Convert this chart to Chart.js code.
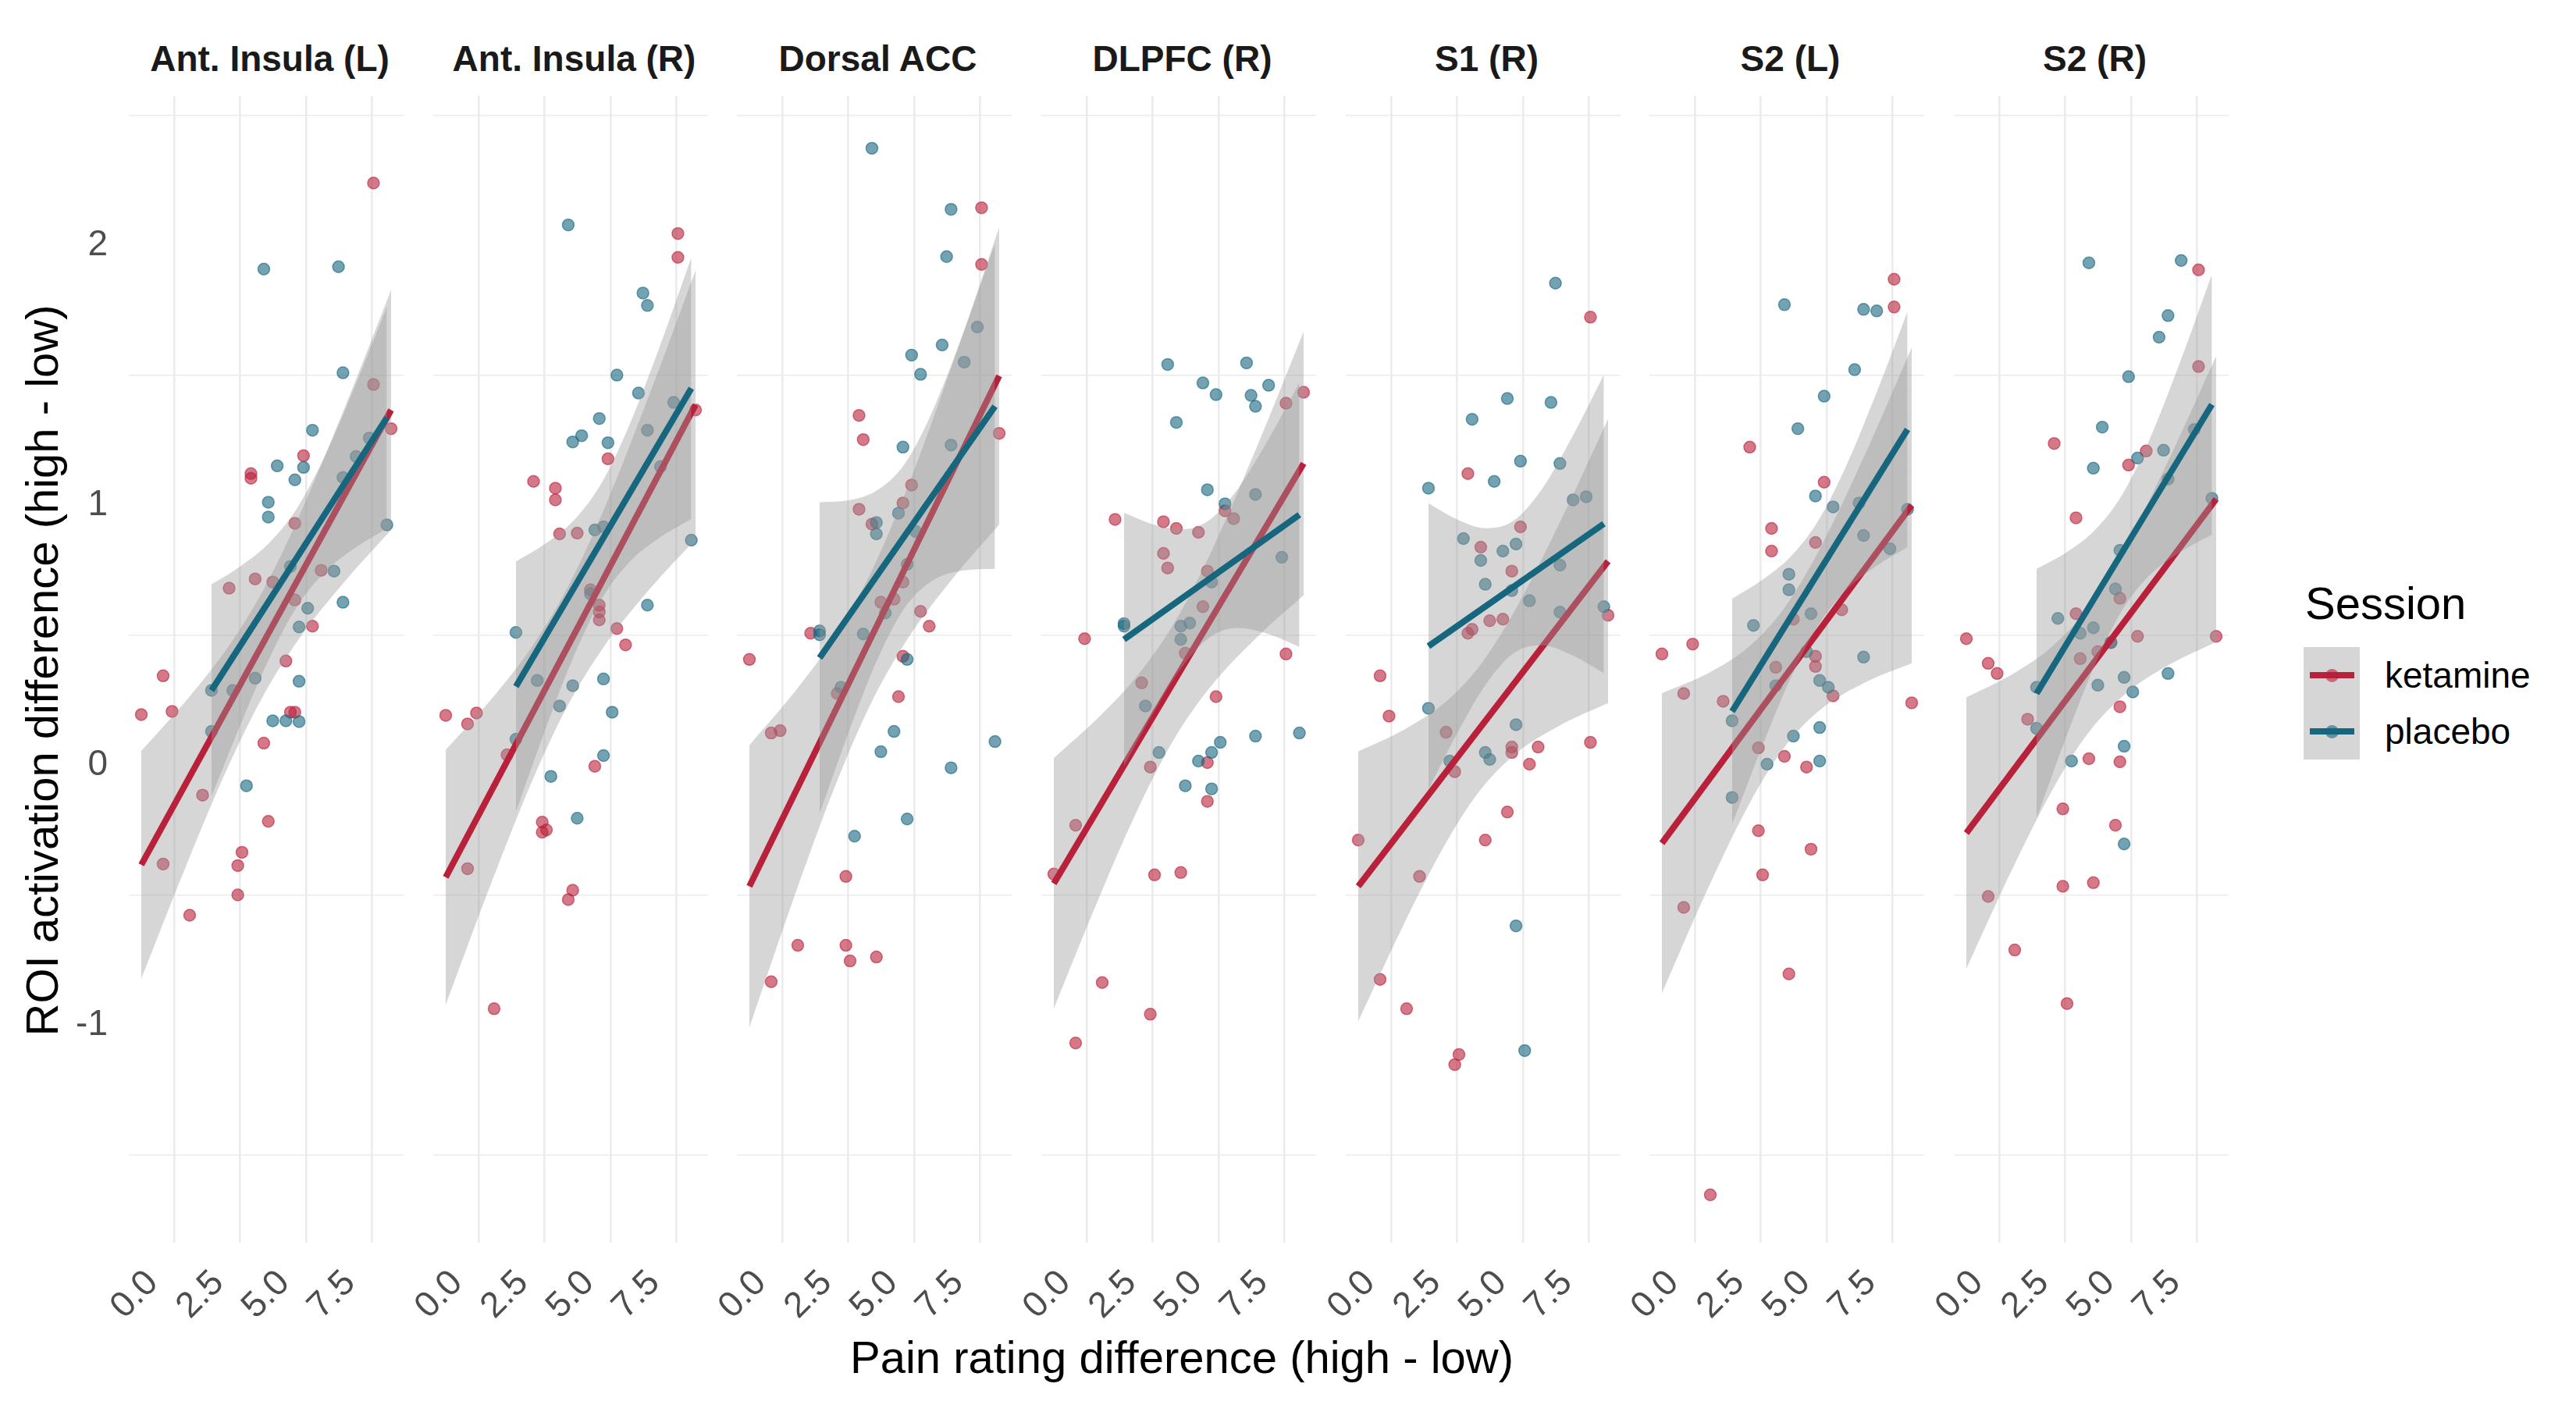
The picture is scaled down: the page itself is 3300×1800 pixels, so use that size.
<!DOCTYPE html>
<html lang="en">
<head>
<meta charset="UTF-8">
<title>ROI activation vs pain rating difference</title>
<script src="https://cdn.jsdelivr.net/npm/chart.js"></script>
<style>
  body { margin: 0; background: #fff; }
  #page { position: relative; width: 3300px; height: 1800px; overflow: hidden; background: #fff;
          font-family: "Liberation Sans", Arial, Helvetica, sans-serif; }
  #page canvas { position: absolute; top: 114px; }
  .strip { position: absolute; top: 75px; transform: translate(-50%, -50%); font-size: 46px;
           font-weight: bold; color: #1a1a1a; white-space: nowrap; }
  .axis-title { position: absolute; font-size: 58px; color: #000; white-space: nowrap;
                transform: translate(-50%, -50%); }
  #ytitle { transform: translate(-50%, -50%) rotate(-90deg); }
  .legend-title { position: absolute; left: 2953px; top: 772px; transform: translateY(-50%);
                  font-size: 58px; color: #000; }
  .key { position: absolute; left: 2951px; width: 72px; height: 72px; background: #d6d6d6; }
  .key .bar { position: absolute; left: 8px; width: 57px; height: 8px; top: 32px; }
  .key .dot { position: absolute; left: 27.5px; top: 27.5px; width: 17px; height: 17px;
              border-radius: 50%; }
  .key-label { position: absolute; left: 3055px; transform: translateY(-50%); font-size: 46px; color: #000; }
</style>
</head>
<body>
<div id="page">
  <div class="axis-title" style="left:1514px; top:1738px;">Pain rating difference (high - low)</div>
  <div class="axis-title" id="ytitle" style="left:53px; top:859px;">ROI activation difference (high - low)</div>
  <div class="legend-title">Session</div>
  <div class="key" style="top:829px;"><div class="bar" style="background:#b9203a"></div><div class="dot" style="background:rgba(185,32,58,0.6)"></div></div>
  <div class="key" style="top:901px;"><div class="bar" style="background:#16667e"></div><div class="dot" style="background:rgba(22,102,126,0.6)"></div></div>
  <div class="key-label" style="top:865px;">ketamine</div>
  <div class="key-label" style="top:937px;">placebo</div>
</div>
<script>
// facets, left to right
const panelNames = ['Ant. Insula (L)', 'Ant. Insula (R)', 'Dorsal ACC', 'DLPFC (R)', 'S1 (R)', 'S2 (L)', 'S2 (R)'];

const xTicks = [0, 2.5, 5, 7.5];
const yGridValues = [-1.5, -1, -0.5, 0, 0.5, 1, 1.5, 2, 2.5];

// pain rating difference per subject (same in every facet)
const ketX = [-1.26, -0.43, -0.43, -0.09, 0.58, 1.07, 2.08, 2.41, 2.41, 2.57, 2.91, 2.91, 3.07, 3.40,
              3.57, 3.74, 4.24, 4.41, 4.58, 4.58, 4.58, 4.91, 5.25, 5.58, 7.57, 7.57, 8.24];
const plaX = [1.41, 1.41, 2.22, 2.74, 3.07, 3.40, 3.57, 3.57, 3.74, 3.91, 4.24, 4.41, 4.58, 4.74,
              4.74, 4.74, 4.91, 5.07, 5.25, 6.07, 6.24, 6.41, 6.41, 6.41, 6.91, 7.41, 8.08];

// ROI activation difference, one row per facet
const ketY = [
  [0.195, 0.344, -0.380, 0.207, -0.577, -0.115, 0.681, -0.386, -0.499, -0.335, 1.122, 1.104, 0.717, 0.085, -0.216, 0.705, 0.401, 0.204, 0.204, 0.931, 0.636, 1.191, 0.535, 0.750, 2.240, 1.465, 1.295],
  [0.192, 0.159, -0.398, 0.201, -0.937, 0.040, 1.092, -0.219, -0.258, -0.249, 1.066, 1.021, 0.890, -0.517, -0.481, 0.893, 0.675, -0.004, 0.616, 0.559, 0.590, 1.179, 0.526, 0.463, 2.046, 1.954, 1.367],
  [0.407, 0.124, -0.833, 0.133, -0.693, 0.508, 0.276, -0.428, -0.693, -0.753, 1.346, 0.985, 1.253, 0.928, -0.738, 0.627, 0.639, 0.264, 1.009, 0.705, 0.419, 1.078, 0.592, 0.535, 2.145, 1.927, 1.277],
  [-0.419, -0.231, -1.069, 0.487, -0.836, 0.946, 0.317, -0.007, -0.958, -0.422, 0.937, 0.815, 0.759, 0.911, -0.413, 0.431, 0.896, 0.610, 0.747, 0.010, -0.139, 0.264, 0.979, 0.949, 1.393, 0.428, 1.435],
  [-0.288, 0.344, -0.824, 0.189, -0.937, -0.428, 0.127, -0.025, -1.152, -1.113, 1.122, 0.508, 0.523, 0.839, -0.288, 0.556, 0.562, -0.180, 0.747, 0.070, 0.049, 0.917, 0.004, 0.070, 1.724, 0.088, 0.577],
  [0.428, 0.276, -0.547, 0.466, -1.653, 0.246, 1.224, 0.067, -0.252, -0.422, 0.911, 0.824, 0.377, 0.034, -0.803, 0.562, -0.007, -0.323, 0.857, 0.419, 0.380, 1.089, 0.267, 0.598, 1.870, 1.763, 0.240],
  [0.487, 0.392, -0.505, 0.353, -0.711, 0.177, 1.238, -0.168, -0.466, -0.917, 0.952, 0.583, 0.410, 0.025, -0.452, 0.437, 0.472, -0.231, 0.642, 0.225, 0.013, 1.155, 0.496, 1.209, 1.906, 1.534, 0.496]
];
const plaY = [
  [0.288, 0.130, 0.288, -0.079, 0.335, 1.909, 1.012, 0.955, 0.171, 1.152, 0.171, 0.765, 1.098, 0.532, 0.323, 0.168, 1.146, 0.604, 1.289, 0.747, 1.918, 1.510, 1.107, 0.627, 1.188, 1.259, 0.925],
  [0.511, 0.100, 0.326, -0.043, 0.228, 2.079, 1.244, 0.306, -0.204, 1.268, 0.660, 0.905, 1.334, 0.917, 0.332, 0.037, 1.241, 0.204, 1.501, 1.432, 1.817, 1.769, 1.289, 0.616, 1.149, 1.396, 0.866],
  [0.517, 0.502, 0.300, -0.273, 0.505, 2.374, 0.934, 0.890, 0.052, 0.586, 0.130, 0.970, 1.224, 0.773, 0.407, -0.207, 1.578, 0.899, 1.504, 1.617, 1.957, 2.139, 1.232, -0.010, 1.551, 1.686, 0.091],
  [0.545, 0.535, 0.228, 0.049, 1.542, 1.319, 0.535, 0.484, -0.079, 0.547, 0.016, 1.471, 1.060, 0.705, 0.049, -0.091, 1.426, 0.088, 1.006, 1.548, 1.423, 1.381, 1.042, 0.112, 1.462, 0.800, 0.124],
  [1.066, 0.219, 0.016, 0.872, 1.331, 0.788, 0.696, 0.049, 0.022, 1.092, 0.824, 1.411, 0.672, 0.851, 0.156, -0.618, 1.170, -1.098, 0.633, 1.396, 1.855, 1.161, 0.770, 0.589, 1.021, 1.033, 0.610],
  [0.171, -0.124, 0.538, 0.004, 0.306, 1.772, 0.735, 0.675, 0.112, 1.295, 0.437, 0.583, 1.036, 0.326, 0.145, 0.016, 1.420, 0.300, 0.994, 1.522, 1.009, 1.754, 0.884, 0.416, 1.748, 0.833, 0.985],
  [0.300, 0.142, 0.565, 0.016, 0.508, 1.933, 1.143, 0.529, 0.308, 1.301, 0.472, 0.678, 0.827, 0.338, 0.073, -0.303, 1.495, 0.282, 1.182, 1.647, 1.212, 1.730, 1.101, 0.353, 1.942, 1.292, 1.027]
];

// fitted lines: y at the first and last x of each session
const ketFitX = [-1.26, 8.24];
const plaFitX = [1.41, 8.08];
const ketFit = [[-0.383, 1.367], [-0.431, 1.387], [-0.466, 1.498], [-0.455, 1.161], [-0.466, 0.785], [-0.300, 1.000], [-0.261, 1.024]];
const plaFit = [[0.288, 1.337], [0.303, 1.450], [0.413, 1.381], [0.484, 0.964], [0.458, 0.929], [0.207, 1.292], [0.276, 1.388]];

// confidence bands read at these x positions
const ketBandX = [-1.26, 0.5, 2.0, 3.33, 4.7, 6.5, 8.24];
const plaBandX = [1.41, 2.5, 3.6, 4.65, 5.7, 6.9, 8.08];
const ketUpper = [
  [0.055, 0.255, 0.449, 0.665, 0.949, 1.382, 1.829],
  [0.059, 0.257, 0.453, 0.675, 0.971, 1.430, 1.904],
  [0.077, 0.287, 0.496, 0.735, 1.055, 1.554, 2.070],
  [0.027, 0.190, 0.355, 0.549, 0.816, 1.234, 1.668],
  [0.053, 0.138, 0.238, 0.379, 0.596, 0.954, 1.332],
  [0.277, 0.354, 0.452, 0.596, 0.824, 1.204, 1.608],
  [0.261, 0.351, 0.457, 0.602, 0.823, 1.189, 1.574]
];
const ketLower = [
  [-0.821, -0.373, -0.015, 0.259, 0.481, 0.710, 0.905],
  [-0.921, -0.446, -0.067, 0.220, 0.448, 0.678, 0.870],
  [-1.009, -0.491, -0.080, 0.231, 0.477, 0.722, 0.926],
  [-0.936, -0.500, -0.155, 0.103, 0.302, 0.496, 0.654],
  [-0.985, -0.606, -0.312, -0.102, 0.042, 0.158, 0.239],
  [-0.877, -0.472, -0.160, 0.060, 0.208, 0.320, 0.392],
  [-0.783, -0.397, -0.097, 0.118, 0.267, 0.389, 0.474]
];
const plaUpper = [
  [0.696, 0.765, 0.855, 0.987, 1.185, 1.466, 1.763],
  [0.784, 0.850, 0.941, 1.083, 1.303, 1.617, 1.953],
  [1.012, 1.019, 1.058, 1.160, 1.362, 1.670, 2.007],
  [0.971, 0.927, 0.908, 0.943, 1.058, 1.254, 1.473],
  [1.008, 0.946, 0.912, 0.941, 1.059, 1.268, 1.503],
  [0.641, 0.709, 0.799, 0.935, 1.141, 1.433, 1.745],
  [0.756, 0.816, 0.902, 1.038, 1.252, 1.560, 1.889]
];
const plaLower = [
  [-0.120, 0.153, 0.409, 0.609, 0.741, 0.838, 0.911],
  [-0.179, 0.130, 0.417, 0.637, 0.779, 0.877, 0.947],
  [-0.186, 0.123, 0.405, 0.606, 0.710, 0.750, 0.756],
  [-0.003, 0.197, 0.376, 0.491, 0.528, 0.505, 0.455],
  [-0.093, 0.123, 0.312, 0.431, 0.461, 0.422, 0.354],
  [-0.227, 0.059, 0.327, 0.533, 0.669, 0.767, 0.839],
  [-0.204, 0.098, 0.379, 0.594, 0.730, 0.822, 0.887]
];

const ketCol = '#b9203a', plaCol = '#16667e';
const ketPt = 'rgba(185,32,58,0.6)', plaPt = 'rgba(22,102,126,0.6)';
const ribbon = 'rgba(153,153,153,0.4)';

Chart.defaults.font.family = '"Liberation Sans", Arial, Helvetica, sans-serif';

const page = document.getElementById('page');
const panelLeft = [165, 555, 944, 1334, 1724, 2113, 2503];
const panelW = 361, panelH = 1478, axisH = 208;

const toPoints = (xs, ys) => xs.map((x, j) => ({ x: x, y: ys[j] }));

panelNames.forEach((name, i) => {
  const aw = i === 0 ? 165 : 60;

  const strip = document.createElement('div');
  strip.className = 'strip';
  strip.style.left = (panelLeft[i] + panelW / 2) + 'px';
  strip.textContent = name;
  page.appendChild(strip);

  const canvas = document.createElement('canvas');
  canvas.width = aw + panelW;
  canvas.height = panelH + axisH;
  canvas.style.left = (panelLeft[i] - aw) + 'px';
  page.appendChild(canvas);

  const band = (xs, ys, fill) => ({
    type: 'line', data: toPoints(xs, ys), borderColor: 'transparent', borderWidth: 0,
    pointRadius: 0, fill: fill, backgroundColor: ribbon, cubicInterpolationMode: 'monotone'
  });

  new Chart(canvas, {
    type: 'scatter',
    data: {
      datasets: [
        { data: toPoints(ketX, ketY[i]), backgroundColor: ketPt, borderColor: ketPt, borderWidth: 1.5, pointRadius: 7.5, order: 10 },
        { data: toPoints(plaX, plaY[i]), backgroundColor: plaPt, borderColor: plaPt, borderWidth: 1.5, pointRadius: 7.5, order: 9 },
        Object.assign(band(ketBandX, ketLower[i], false), { order: 8 }),
        Object.assign(band(ketBandX, ketUpper[i], '-1'), { order: 7 }),
        { type: 'line', data: toPoints(ketFitX, ketFit[i]), borderColor: ketCol, borderWidth: 8, pointRadius: 0, fill: false, order: 6 },
        Object.assign(band(plaBandX, plaLower[i], false), { order: 5 }),
        Object.assign(band(plaBandX, plaUpper[i], '-1'), { order: 4 }),
        { type: 'line', data: toPoints(plaFitX, plaFit[i]), borderColor: plaCol, borderWidth: 8, pointRadius: 0, fill: false, order: 3 }
      ]
    },
    options: {
      responsive: false,
      animation: false,
      events: [],
      layout: { padding: 0 },
      plugins: { legend: { display: false }, tooltip: { enabled: false } },
      scales: {
        x: {
          type: 'linear', min: -1.735, max: 8.715,
          afterBuildTicks: s => { s.ticks = xTicks.map(v => ({ value: v })); },
          grid: { color: '#ebebeb', lineWidth: 2.6, drawTicks: false },
          border: { display: false },
          ticks: {
            font: { size: 46 }, color: '#4d4d4d', minRotation: 45, maxRotation: 45,
            autoSkip: false, padding: 25, labelOffset: -28,
            callback: v => v.toFixed(1)
          },
          afterFit: s => { s.height = axisH; s.paddingLeft = 0; s.paddingRight = 0; }
        },
        y: {
          type: 'linear', min: -1.837, max: 2.575,
          afterBuildTicks: s => { s.ticks = yGridValues.map(v => ({ value: v })); },
          grid: {
            color: ctx => (ctx.tick && Number.isInteger(ctx.tick.value)) ? 'rgba(0,0,0,0)' : '#ebebeb',
            lineWidth: 1.6, drawTicks: false
          },
          border: { display: false },
          ticks: {
            display: i === 0, font: { size: 46 }, color: '#4d4d4d', padding: 27, autoSkip: false,
            callback: v => Number.isInteger(v) ? String(v) : ''
          },
          afterFit: s => { s.width = aw; s.paddingTop = 0; s.paddingBottom = 0; }
        }
      }
    }
  });
});
</script>
</body>
</html>
